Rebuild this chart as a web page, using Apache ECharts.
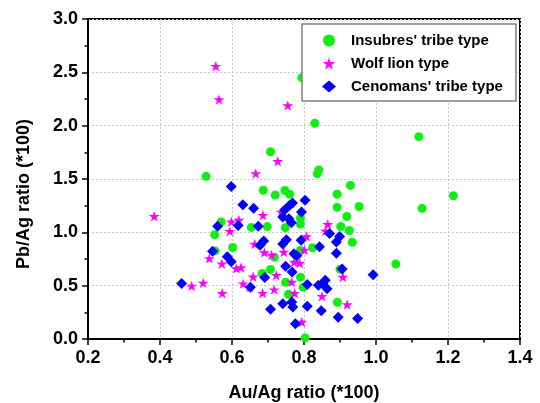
<!DOCTYPE html>
<html>
<head>
<meta charset="utf-8">
<script src="https://cdn.jsdelivr.net/npm/echarts@6/dist/echarts.min.js"></script>
<style>html,body{margin:0;padding:0;background:#fff}#c{width:540px;height:403px}</style>
</head>
<body>
<div id="c"></div>
<script>
const seriesNames = ["Insubres' tribe type", "Wolf lion type", "Cenomans' tribe type"];
const insubresData = [[0.528,1.525],[0.794,2.45],[0.830,2.022],[1.119,1.897],[0.707,1.755],[0.837,1.550],[0.841,1.585],[0.929,1.440],[1.215,1.343],[1.128,1.225],[0.687,1.395],[0.720,1.350],[0.747,1.392],[0.760,1.357],[0.892,1.358],[0.892,1.234],[0.953,1.242],[0.919,1.148],[0.902,1.055],[0.926,1.017],[0.934,0.907],[0.570,1.098],[0.552,0.977],[0.553,0.826],[0.602,0.858],[0.654,1.046],[0.698,1.054],[0.790,1.134],[0.790,1.078],[0.748,1.044],[0.824,0.855],[1.055,0.703],[0.718,0.766],[0.707,0.652],[0.684,0.614],[0.749,0.532],[0.790,0.579],[0.798,0.485],[0.757,0.420],[0.893,0.345],[0.900,0.655],[0.803,0.010],[0.790,0.830]];
const wolfData = [[0.555,2.557],[0.564,2.245],[0.755,2.190],[0.727,1.666],[0.666,1.551],[0.384,1.150],[0.686,1.160],[0.737,1.190],[0.598,1.100],[0.619,1.115],[0.594,1.010],[0.866,1.075],[0.860,1.012],[0.807,0.962],[0.663,0.890],[0.690,0.810],[0.710,0.787],[0.744,0.815],[0.773,0.721],[0.788,0.710],[0.537,0.756],[0.572,0.706],[0.612,0.662],[0.625,0.670],[0.659,0.584],[0.723,0.597],[0.766,0.535],[0.801,0.835],[0.631,0.519],[0.649,0.487],[0.685,0.430],[0.717,0.463],[0.573,0.428],[0.520,0.526],[0.488,0.498],[0.774,0.430],[0.850,0.400],[0.908,0.581],[0.920,0.323],[0.794,0.160]];
const cenomansData = [[0.598,1.430],[0.630,1.258],[0.660,1.225],[0.560,1.056],[0.617,1.064],[0.673,1.058],[0.546,0.822],[0.587,0.772],[0.598,0.725],[0.460,0.520],[0.688,0.918],[0.678,0.880],[0.746,1.210],[0.760,1.255],[0.768,1.275],[0.741,1.144],[0.758,1.128],[0.765,1.090],[0.793,1.190],[0.803,1.300],[0.751,0.930],[0.741,0.890],[0.792,0.925],[0.772,0.800],[0.780,0.780],[0.749,0.681],[0.767,0.628],[0.691,0.577],[0.651,0.485],[0.843,0.866],[0.871,0.988],[0.899,0.960],[0.890,0.909],[0.890,0.805],[0.906,0.656],[0.992,0.603],[0.809,0.512],[0.840,0.503],[0.852,0.519],[0.859,0.550],[0.864,0.472],[0.741,0.331],[0.766,0.346],[0.769,0.299],[0.707,0.280],[0.809,0.306],[0.848,0.265],[0.895,0.205],[0.949,0.193],[0.776,0.143]];

const STAR = 'path://M50 0 L61.23 34.55 L97.55 34.55 L68.16 55.9 L79.39 90.45 L50 69.1 L20.61 90.45 L31.84 55.9 L2.45 34.55 L38.77 34.55 Z';
const FONT = '"Liberation Sans", Arial, sans-serif';

const chart = echarts.init(document.getElementById('c'), null, {renderer: 'canvas'});
const axisCommon = {
  axisLine: {show: true, onZero: false, lineStyle: {color: '#000', width: 2}},
  axisTick: {show: true, inside: false, length: 6, lineStyle: {color: '#000', width: 1.5}},
  minorTick: {show: true, splitNumber: 2, length: 3.5, lineStyle: {color: '#000', width: 1.5}},
  splitLine: {show: true, lineStyle: {color: '#c8c8c8', width: 1, type: [2, 2]}},
  axisLabel: {color: '#000', fontFamily: FONT, fontWeight: 'bold', fontSize: 18},
  nameTextStyle: {color: '#000', fontFamily: FONT, fontWeight: 'bold', fontSize: 18}
};
chart.setOption({
  animation: false,
  backgroundColor: '#fff',
  grid: {left: 88, right: 20, top: 19, bottom: 64, containLabel: false, outerBoundsMode: 'none', show: true, borderColor: '#000', borderWidth: 2, backgroundColor: 'transparent'},
  xAxis: Object.assign({}, axisCommon, {
    type: 'value', min: 0.2, max: 1.4, interval: 0.2,
    name: 'Au/Ag ratio (*100)', nameLocation: 'middle', nameGap: 45,
    axisLabel: Object.assign({}, axisCommon.axisLabel, {margin: 10, formatter: v => v.toFixed(1)})
  }),
  yAxis: Object.assign({}, axisCommon, {
    type: 'value', min: 0, max: 3.0, interval: 0.5,
    name: 'Pb/Ag ratio (*100)', nameLocation: 'middle', nameGap: 55,
    nameTextStyle: Object.assign({}, axisCommon.nameTextStyle, {padding: [0, 30, 0, 0]}),
    axisLabel: Object.assign({}, axisCommon.axisLabel, {margin: 10, formatter: v => v.toFixed(1)})
  }),
  legend: {
    orient: 'vertical', left: 302, top: 24,
    backgroundColor: '#fff', borderColor: '#808080', borderWidth: 1.5,
    padding: [9, 13, 7, 20], itemGap: 8, itemWidth: 14, itemHeight: 12,
    textStyle: {color: '#000', fontFamily: FONT, fontWeight: 'bold', fontSize: 15, padding: [0, 0, 0, 10]},
    data: seriesNames
  },
  series: [
    {name: seriesNames[0], type: 'scatter', data: insubresData, symbol: 'circle', symbolSize: 9, itemStyle: {color: '#11ee11', opacity: 1}},
    {name: seriesNames[1], type: 'scatter', data: wolfData, symbol: STAR, symbolKeepAspect: true, symbolSize: 11, itemStyle: {color: '#ff00ff', opacity: 1}},
    {name: seriesNames[2], type: 'scatter', data: cenomansData, symbol: 'diamond', symbolSize: 11, itemStyle: {color: '#0000ff', opacity: 1}}
  ]
});
</script>
</body>
</html>
